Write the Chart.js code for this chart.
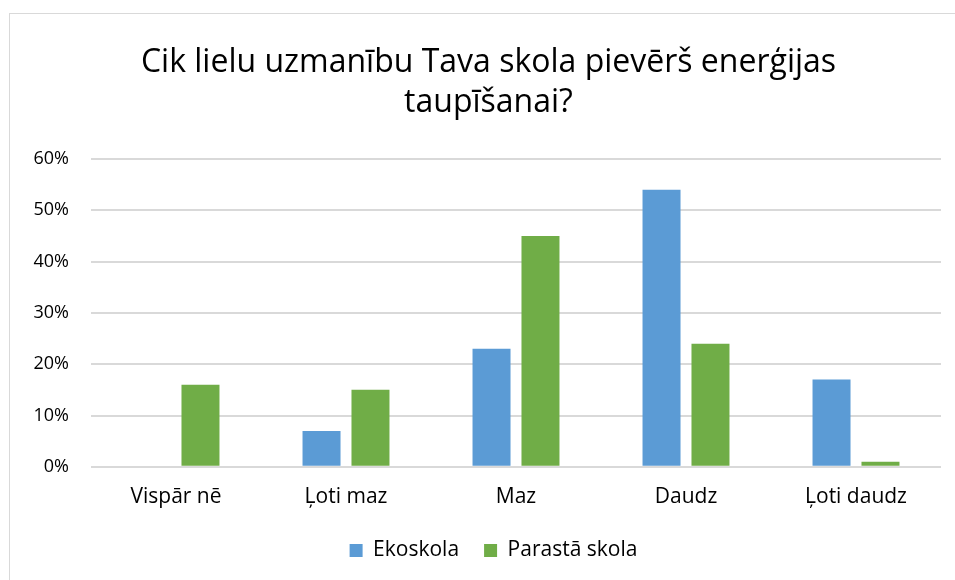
<!DOCTYPE html>
<html>
<head>
<meta charset="utf-8">
<script src="https://cdn.jsdelivr.net/npm/chart.js@4.4.1/dist/chart.umd.min.js"></script>
<style>
  html, body { margin: 0; padding: 0; background: #fff; }
  #frame {
    position: absolute; left: 9px; top: 13px;
    width: 960px; height: 600px;
    border: 1px solid #D9D9D9; box-sizing: border-box;
  }
  #wrap { position: absolute; left: 0; top: 0; width: 955px; height: 580px; }
</style>
</head>
<body>
<div id="frame"></div>
<div id="wrap"><canvas id="chart"></canvas></div>
<script>
// dati
const kategorijas = ['Vispār nē', 'Ļoti maz', 'Maz', 'Daudz', 'Ļoti daudz'];
const ekoskola = [0, 7, 23, 54, 17];
const parastaSkola = [16, 15, 45, 24, 1];
const virsraksts = ['Cik lielu uzmanību Tava skola pievērš enerģijas', 'taupīšanai?'];

const FONT = '"Open Sans", "Noto Sans", sans-serif';

// virsraksts un leģenda centrēti pa visu rāmi, ne tikai zīmēšanas laukumu
const boxShift = {
  id: 'boxShift',
  afterLayout(chart) {
    const t = chart.titleBlock;
    if (t) { t.left += 18; t.right += 18; }
    const lg = chart.legend;
    if (lg) {
      lg.left += 23; lg.right += 23;
      lg.top = 515; lg.bottom = 580;
    }
  }
};

const ctx = document.getElementById('chart').getContext('2d');
new Chart(ctx, {
  type: 'bar',
  data: {
    labels: kategorijas,
    datasets: [
      { label: 'Ekoskola', data: ekoskola, backgroundColor: '#5B9BD5' },
      { label: 'Parastā skola', data: parastaSkola, backgroundColor: '#70AD47' }
    ]
  },
  options: {
    responsive: true,
    maintainAspectRatio: false,
    animation: false,
    categoryPercentage: 0.576,
    barPercentage: 0.776,
    layout: { padding: { top: 43, right: 14, bottom: 6, left: 0 } },
    plugins: {
      title: {
        display: true,
        text: virsraksts,
        color: '#000',
        font: { family: FONT, size: 32, weight: 'normal', lineHeight: '40px' },
        padding: { top: 0, bottom: 36 }
      },
      legend: {
        position: 'bottom',
        maxHeight: 54,
        labels: {
          color: '#000',
          font: { family: FONT, size: 21 },
          boxWidth: 13,
          boxHeight: 13,
          padding: 25
        }
      },
      tooltip: { enabled: false }
    },
    scales: {
      x: {
        grid: { display: false },
        border: { display: false },
        ticks: { color: '#000', font: { family: FONT, size: 21 }, padding: 10, maxRotation: 0 }
      },
      y: {
        min: 0,
        max: 60,
        grid: { color: '#D9D9D9', lineWidth: 2, drawTicks: false },
        border: { display: false },
        ticks: {
          stepSize: 10,
          color: '#000',
          font: { family: FONT, size: 18 },
          padding: 22,
          callback: v => v + '%'
        },
        afterFit: scale => { scale.width = 91; }
      }
    }
  },
  plugins: [boxShift]
});
</script>
</body>
</html>
